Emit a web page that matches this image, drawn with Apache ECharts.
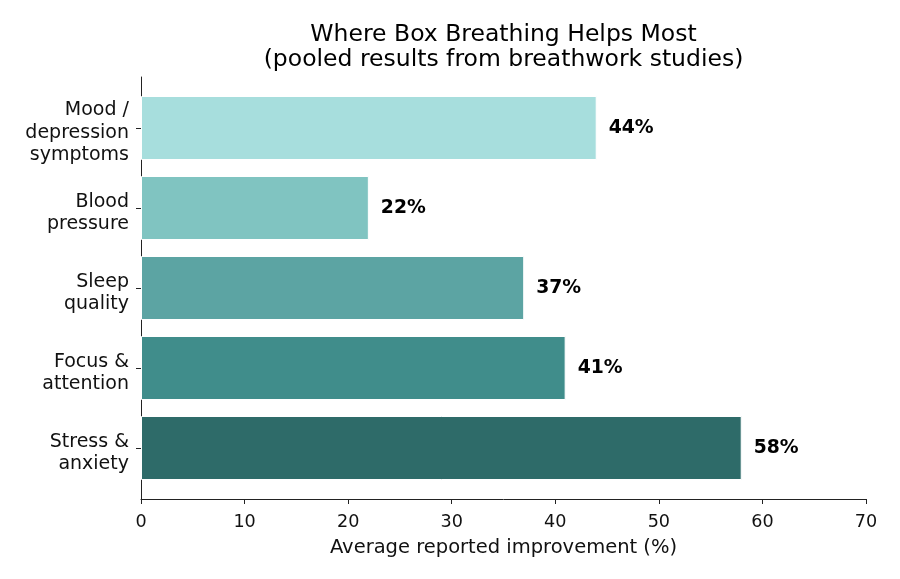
<!DOCTYPE html>
<html>
<head>
<meta charset="utf-8">
<script src="https://cdn.jsdelivr.net/npm/echarts@6/dist/echarts.min.js"></script>
<style>html,body{margin:0;padding:0;background:#fff}#c{width:900px;height:579px}</style>
</head>
<body>
<div id="c"></div>
<script>
const categories = ['Stress &\nanxiety', 'Focus &\nattention', 'Sleep\nquality', 'Blood\npressure', 'Mood /\ndepression\nsymptoms'];
const values = [58, 41, 37, 22, 44];
const barColors = ['#2e6b69', '#408d8b', '#5ca4a3', '#80c4c1', '#a7dedd'];
const xTicks = { min: 0, max: 70, interval: 10 };
const titleLines = ['Where Box Breathing Helps Most', '(pooled results from breathwork studies)'];
const xAxisTitle = 'Average reported improvement (%)';

const FONT = 'DejaVu Sans';
const chart = echarts.init(document.getElementById('c'), null, { renderer: 'canvas' });
const L = 141, W = 725;
chart.setOption({
  animation: false,
  backgroundColor: '#fff',
  textStyle: { fontFamily: FONT },
  graphic: [{
    type: 'text', x: L + W / 2, y: 22,
    style: { text: titleLines.join('\n'), font: '23.5px "DejaVu Sans"', fill: '#000', align: 'center', verticalAlign: 'top', lineHeight: 25 }
  }],
  grid: [
    { left: L, width: W, top: 77, height: 422 },
    { left: L, width: W, top: 88, height: 400 },
    { left: L, width: W, top: 93, height: 400 }
  ],
  xAxis: [
    {
      gridIndex: 0, type: 'value', min: xTicks.min, max: xTicks.max, interval: xTicks.interval,
      axisLine: { show: true, lineStyle: { color: '#222', width: 1 } },
      axisTick: { show: true, length: 5, lineStyle: { color: '#222' } },
      axisLabel: { color: '#111', fontSize: 17.6, margin: 14, fontFamily: FONT },
      splitLine: { show: false },
      name: xAxisTitle, nameLocation: 'middle', nameGap: 39,
      nameTextStyle: { color: '#111', fontSize: 19.5, fontFamily: FONT }
    },
    { gridIndex: 1, type: 'value', min: xTicks.min, max: xTicks.max, interval: xTicks.interval, show: false },
    { gridIndex: 2, type: 'value', min: xTicks.min, max: xTicks.max, interval: xTicks.interval, show: false }
  ],
  yAxis: [
    {
      gridIndex: 0, type: 'value', min: 0, max: 1,
      axisLine: { show: true, lineStyle: { color: '#222', width: 1 } },
      axisTick: { show: false }, axisLabel: { show: false }, splitLine: { show: false }
    },
    {
      gridIndex: 1, type: 'category', data: categories,
      axisLine: { show: false },
      axisTick: { show: true, alignWithLabel: true, length: 5, lineStyle: { color: '#222' } },
      axisLabel: { show: false },
      splitLine: { show: false }
    },
    {
      gridIndex: 2, type: 'category', data: categories,
      axisLine: { show: false }, axisTick: { show: false }, splitLine: { show: false },
      axisLabel: { color: '#111', fontSize: 19, lineHeight: 22.5, margin: 12, fontFamily: FONT, align: 'right' }
    }
  ],
  series: [{
    type: 'bar', xAxisIndex: 1, yAxisIndex: 1,
    data: values.map((v, i) => ({ value: v, itemStyle: { color: barColors[i] } })),
    barCategoryGap: '20%',
    itemStyle: { borderColor: '#fff', borderWidth: 1 },
    label: {
      show: true, position: 'right', distance: 12,
      formatter: p => p.value + '%',
      color: '#000', fontWeight: 'bold', fontSize: 18.8, fontFamily: FONT
    }
  }]
});
</script>
</body>
</html>
